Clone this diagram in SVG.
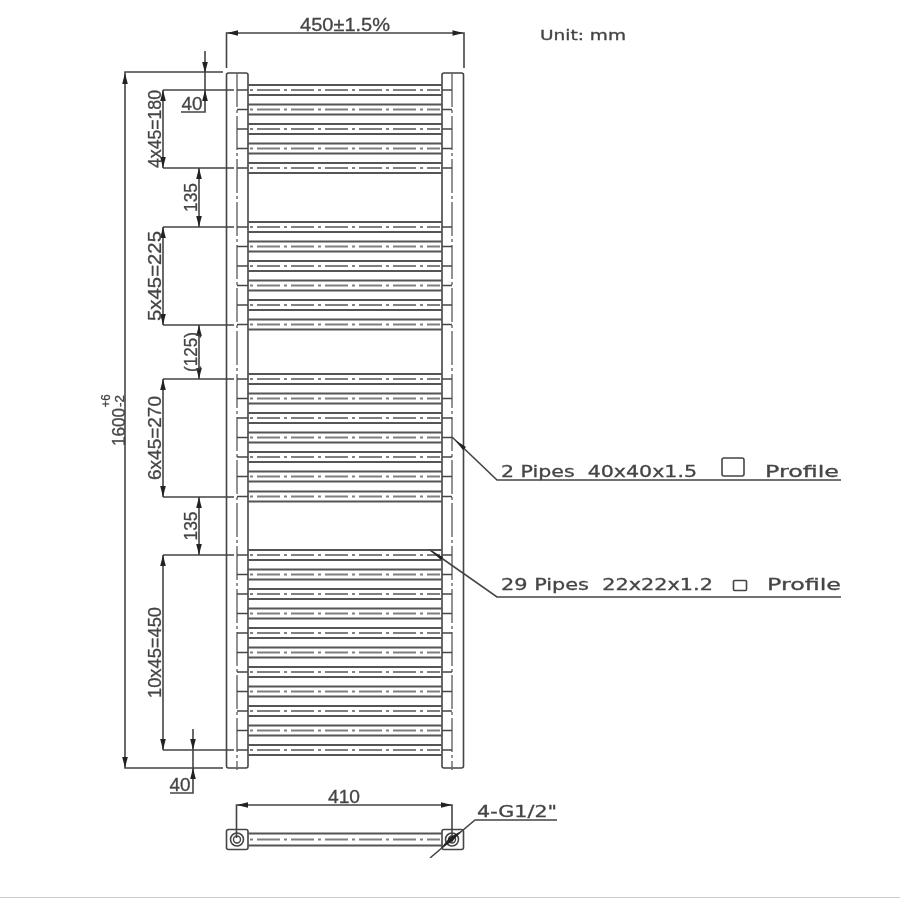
<svg xmlns="http://www.w3.org/2000/svg" width="900" height="900" viewBox="0 0 900 900">
<style>
.l{fill:none;stroke:#444;stroke-width:1.6}
.m{fill:none;stroke:#444;stroke-width:1.4}
.b{fill:none;stroke:#555;stroke-width:2}
.c{fill:none;stroke:#666;stroke-width:1.4;stroke-dasharray:34 3 3 3}
.bc{fill:none;stroke:#808080;stroke-width:2;stroke-dasharray:23 4 3 4;stroke-dashoffset:-7}
.a{fill:#222;stroke:none}
.d{font-family:"Liberation Sans",Arial,sans-serif;font-size:19px;fill:#444;stroke:#444;stroke-width:.3;text-anchor:middle}
.s{font-size:12px}
.t{font-family:"DejaVu Sans",sans-serif;font-size:16px;fill:#444;stroke:#444;stroke-width:.3}
</style>
<defs>
<filter id="soft" x="0" y="0" width="100%" height="100%"><feGaussianBlur stdDeviation="0.6"/></filter>
<g id="bar">
<path class="b" d="M248 -5H442M248 5H442"/>
<path class="bc" d="M250 0H440"/>
<path class="m" d="M237 0H248M442 0H452"/>
</g>
<path id="ad" class="a" d="M0 0L-2.800 -11H2.800Z"/>
<path id="au" class="a" d="M0 0L-2.800 11H2.800Z"/>
<path id="al" class="a" d="M0 0L11 -2.800V2.800Z"/>
<path id="ar" class="a" d="M0 0L-11 -2.800V2.800Z"/>
</defs>
<rect width="900" height="900" fill="#fff"/>
<g filter="url(#soft)">
<g id="rails">
<rect class="l" x="226.500" y="73" width="21.500" height="695" rx="2"/>
<rect class="l" x="442" y="73" width="21.500" height="695" rx="2"/>
<path class="c" d="M237 73V770M452 73V770"/>
</g>
<g id="bars">
<use href="#bar" y="90"/><use href="#bar" y="109.500"/><use href="#bar" y="129"/><use href="#bar" y="148.500"/><use href="#bar" y="168"/>
<use href="#bar" y="227"/><use href="#bar" y="246.500"/><use href="#bar" y="266"/><use href="#bar" y="285.500"/><use href="#bar" y="305"/><use href="#bar" y="324.500"/>
<use href="#bar" y="379"/><use href="#bar" y="398.500"/><use href="#bar" y="418"/><use href="#bar" y="437.500"/><use href="#bar" y="457"/><use href="#bar" y="476.500"/><use href="#bar" y="496.500"/>
<use href="#bar" y="555"/><use href="#bar" y="574.500"/><use href="#bar" y="594"/><use href="#bar" y="613.500"/><use href="#bar" y="633"/><use href="#bar" y="652.500"/><use href="#bar" y="672"/><use href="#bar" y="691.500"/><use href="#bar" y="711"/><use href="#bar" y="730.500"/><use href="#bar" y="750"/>
</g>
<g id="dimensions">
<path class="l" d="M226.500 68V33H464V68"/>
<use href="#al" x="227" y="33"/><use href="#ar" x="463.500" y="33"/>
<path class="l" d="M223 72H125V768H223"/>
<use href="#au" x="125" y="73"/><use href="#ad" x="125" y="768"/>
<path class="l" d="M163 90H234M163 168H234M163 227H234M163 325H234M163 379H234M163 497H234M163 555H234M163 750H234"/>
<path class="l" d="M163 90V168M163 227V325M163 379V497M163 555V750M199 168V227M199 325V379M199 497V555"/>
<use href="#au" x="163" y="90"/><use href="#ad" x="163" y="168"/>
<use href="#au" x="163" y="227"/><use href="#ad" x="163" y="325"/>
<use href="#au" x="163" y="379"/><use href="#ad" x="163" y="497"/>
<use href="#au" x="163" y="555"/><use href="#ad" x="163" y="750"/>
<use href="#au" x="199" y="168"/><use href="#ad" x="199" y="227"/>
<use href="#au" x="199" y="325"/><use href="#ad" x="199" y="379"/>
<use href="#au" x="199" y="497"/><use href="#ad" x="199" y="555"/>
<path class="l" d="M205 51V112H181"/>
<use href="#ad" x="205" y="73"/><use href="#au" x="205" y="90"/>
<path class="l" d="M193 729V793H170"/>
<use href="#ad" x="193" y="750"/><use href="#au" x="193" y="768"/>
<path class="l" d="M236.500 838V805H452V838"/>
<use href="#al" x="237" y="805"/><use href="#ar" x="452" y="805"/>
</g>
<g id="section">
<rect class="l" x="226.500" y="829.500" width="21.500" height="20" rx="2"/>
<rect class="l" x="442" y="829.500" width="21.500" height="20" rx="2"/>
<path class="b" d="M248 833.500H442M248 845.500H442"/>
<path class="bc" d="M250 839.500H440"/>
<circle class="l" cx="237" cy="839.500" r="6.500"/><circle class="m" cx="237" cy="839.500" r="3.500"/>
<circle class="l" cx="452" cy="839.500" r="6.500"/><circle class="m" cx="452" cy="839.500" r="3.500"/>
</g>
<g id="leaders">
<path class="l" d="M452 437L497 480H841"/>
<path class="l" d="M430 550L497 597H841"/>
<path class="l" d="M430 858L475 820H557"/>
<path class="a" d="M455 440L466 447L463 450Z"/>
<path class="a" d="M431 551L443 557L441 560Z"/>
<path class="a" d="M461 831L449 838L452 842Z"/>
<path class="a" d="M441 848L453 841L450 837Z"/>
<rect class="l" x="722" y="458" width="22" height="18" rx="2"/>
<rect class="l" x="733.500" y="580.500" width="13" height="10" rx="1"/>
</g>
<g id="labels">
<text class="d" x="345" y="31" textLength="90" lengthAdjust="spacingAndGlyphs">450±1.5%</text>
<text class="t" x="540" y="40" style="font-size:14px" textLength="86" lengthAdjust="spacingAndGlyphs">Unit: mm</text>
<text class="d" transform="translate(161 129) rotate(-90)" textLength="78" lengthAdjust="spacingAndGlyphs">4x45=180</text>
<text class="d" transform="translate(161 276) rotate(-90)" textLength="90" lengthAdjust="spacingAndGlyphs">5x45=225</text>
<text class="d" transform="translate(161 438) rotate(-90)" textLength="84" lengthAdjust="spacingAndGlyphs">6x45=270</text>
<text class="d" transform="translate(161 652.500) rotate(-90)" textLength="91" lengthAdjust="spacingAndGlyphs">10x45=450</text>
<text class="d" transform="translate(197 197.500) rotate(-90)" textLength="29" lengthAdjust="spacingAndGlyphs">135</text>
<text class="d" transform="translate(197 352) rotate(-90)" textLength="40" lengthAdjust="spacingAndGlyphs">(125)</text>
<text class="d" transform="translate(197 526) rotate(-90)" textLength="29" lengthAdjust="spacingAndGlyphs">135</text>
<text class="d" x="192" y="110" textLength="21" lengthAdjust="spacingAndGlyphs">40</text>
<text class="d" x="180" y="791" textLength="21" lengthAdjust="spacingAndGlyphs">40</text>
<text class="d" x="344" y="803" textLength="32" lengthAdjust="spacingAndGlyphs">410</text>
<text class="d" transform="translate(125 427) rotate(-90)" textLength="38" lengthAdjust="spacingAndGlyphs">1600</text>
<text class="d s" transform="translate(110 401) rotate(-90)" textLength="13" lengthAdjust="spacingAndGlyphs">+6</text>
<text class="d s" transform="translate(124 401) rotate(-90)" textLength="12" lengthAdjust="spacingAndGlyphs">-2</text>
<text class="t" x="501" y="477" textLength="196" lengthAdjust="spacingAndGlyphs" xml:space="preserve">2 Pipes  40x40x1.5</text>
<text class="t" x="765" y="477" textLength="74" lengthAdjust="spacingAndGlyphs">Profile</text>
<text class="t" x="501" y="590" textLength="212" lengthAdjust="spacingAndGlyphs" xml:space="preserve">29 Pipes  22x22x1.2</text>
<text class="t" x="767" y="590" textLength="74" lengthAdjust="spacingAndGlyphs">Profile</text>
<text class="t" x="477" y="817" textLength="80" lengthAdjust="spacingAndGlyphs">4-G1/2"</text>
</g>
</g>
<path d="M0 897.500H900" stroke="#ccc" stroke-width="1"/>
</svg>
